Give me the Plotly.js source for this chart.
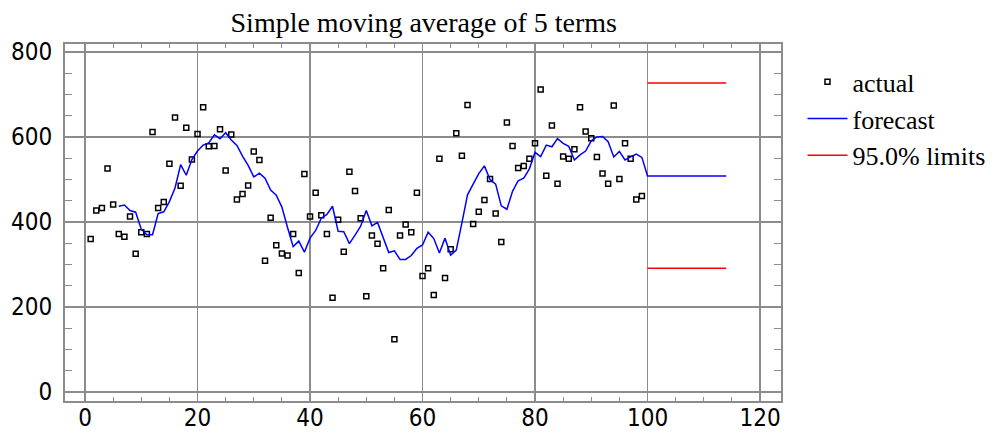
<!DOCTYPE html>
<html><head><meta charset="utf-8">
<script src="https://cdn.plot.ly/plotly-3.0.1.min.js"></script>
<style>html,body{margin:0;padding:0;background:#fff;}#chart{width:1003px;height:439px;}</style>
</head><body><div id="chart"></div>
<script>
// actual values, periods 1..99
const actual = [360,427,433,526,441,372,365,413,325,376,
  372,612,433,447,537,646,485,622,547,607,
  670,578,579,618,521,606,453,466,486,566,
  546,309,410,345,326,321,372,280,513,413,
  469,416,372,222,405,330,518,473,409,225,
  368,349,291,428,124,368,394,376,469,273,
  291,228,549,268,336,609,556,675,395,424,
  452,501,420,353,634,579,527,532,549,585,
  712,509,627,490,554,549,571,670,613,597,
  553,514,490,674,501,585,549,453,461];
// forecast line, periods 6..99
const forecast = [437,440,427,423,383,370,370,420,424,448,
  480,535,510,547,567,581,586,605,596,610,
  593,580,555,533,506,515,503,475,463,435,
  387,342,355,329,362,380,409,418,437,378,
  377,349,369,390,427,391,399,365,328,332,
  312,312,321,338,346,376,361,327,362,322,
  334,398,464,489,514,532,500,489,438,430,
  472,497,503,525,564,554,581,577,596,585,
  578,546,558,567,591,600,601,589,553,566,
  546,553,560,552];
const futurePeriods = [100, 114];
const futureForecast = [508, 508];
const upperLimit = [727, 727];
const lowerLimit = [291, 291];
const xTickVals = [0, 20, 40, 60, 80, 100, 120];
const yTickVals = [0, 200, 400, 600, 800];

const actualT = actual.map((_, i) => i + 1);
const forecastT = forecast.map((_, i) => i + 6);

const tickFont = {family: 'Liberation Sans Narrow, DejaVu Sans Condensed, sans-serif', size: 24, color: '#000'};
const serif = 'Liberation Serif, Times New Roman, serif';
const gridC = '#8c8c8c';

const traces = [
  {x: actualT, y: actual, name: 'actual', mode: 'markers', type: 'scatter',
   marker: {symbol: 'square-open', size: 5, color: '#000', line: {width: 1.5, color: '#000'}}},
  {x: forecastT.concat(futurePeriods), y: forecast.concat(futureForecast), name: 'forecast',
   mode: 'lines', type: 'scatter', line: {color: '#0000ff', width: 1.5}},
  {x: futurePeriods, y: upperLimit, name: '95.0% limits', legendgroup: 'lim',
   mode: 'lines', type: 'scatter', line: {color: '#ff0000', width: 1.5}},
  {x: futurePeriods, y: lowerLimit, name: '95.0% limits', legendgroup: 'lim', showlegend: false,
   mode: 'lines', type: 'scatter', line: {color: '#ff0000', width: 1.5}}
];

const layout = {
  width: 1003, height: 439,
  margin: {l: 65, r: 222, t: 44, b: 38},
  paper_bgcolor: '#fff', plot_bgcolor: '#fff',
  showlegend: true,
  title: {text: 'Simple moving average of 5 terms', font: {family: serif, size: 28, color: '#000'},
          x: 0.4225, xanchor: 'center', xref: 'container', y: 0.95, yanchor: 'middle', yref: 'container'},
  xaxis: {range: [-3.56, 123.73], tickvals: xTickVals, ticktext: xTickVals.map(String),
          ticks: 'inside', ticklen: 4, tickwidth: 1.5, tickcolor: gridC,
          minor: {dtick: 5, tick0: 0, ticks: 'inside', ticklen: 4, tickwidth: 1, tickcolor: gridC, showgrid: false},
          showgrid: true, gridcolor: gridC, gridwidth: 1.5, zeroline: false,
          showline: true, linecolor: gridC, linewidth: 2, mirror: 'allticks',
          tickfont: tickFont, ticklabelstandoff: -6},
  yaxis: {range: [-21.2, 818.8], tickvals: yTickVals, ticktext: yTickVals.map(String),
          ticks: 'inside', ticklen: 8, tickwidth: 1.5, tickcolor: gridC,
          minor: {dtick: 50, tick0: 0, ticks: 'inside', ticklen: 7, tickwidth: 1, tickcolor: gridC, showgrid: false},
          showgrid: true, gridcolor: gridC, gridwidth: 1.5, zeroline: false,
          showline: true, linecolor: gridC, linewidth: 2, mirror: 'allticks',
          tickfont: tickFont, ticklabelstandoff: 6},
  legend: {x: 1.03, xanchor: 'left', y: 0.96, yanchor: 'top', bgcolor: 'rgba(0,0,0,0)',
           font: {family: serif, size: 26, color: '#000'}, tracegroupgap: 0, itemwidth: 40}
};

Plotly.newPlot('chart', traces, layout, {displayModeBar: false, staticPlot: true});
</script></body></html>
